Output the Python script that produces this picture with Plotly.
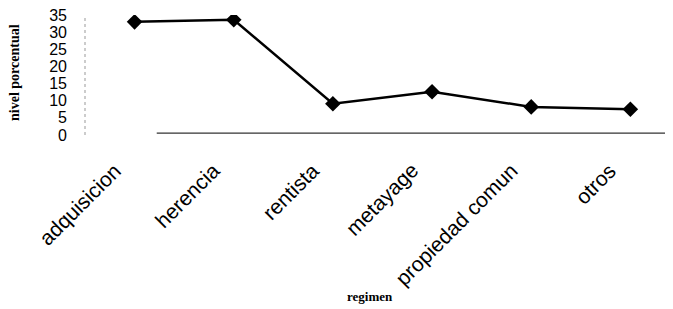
import plotly.graph_objects as go

categories = ["adquisicion", "herencia", "rentista", "metayage", "propiedad comun", "otros"]
values = [33.0, 33.6, 9.1, 12.6, 8.2, 7.5]
y_ticks = [0, 5, 10, 15, 20, 25, 30, 35]

fig = go.Figure()
fig.add_trace(go.Scatter(
    x=categories, y=values, mode="lines+markers",
    line=dict(color="black", width=2.5),
    marker=dict(symbol="diamond", size=12, color="black"),
    showlegend=False,
))

# category labels, rotated like the original
cat_labels = [
    dict(text=c, xref="x", yref="y", x=c, y=0, xanchor="right", yanchor="top",
         xshift=-7, yshift=-21, textangle=-45, showarrow=False,
         font=dict(family="Liberation Sans, Arial", size=21, color="black"))
    for c in categories
]

# page body has an 8px margin: figure is 8px smaller on each axis and offset
fig.update_layout(
    width=665, height=301,
    margin=dict(l=77, r=0, t=7, b=174),
    paper_bgcolor="white", plot_bgcolor="white",
    font=dict(family="Liberation Sans, Arial", color="black"),
    xaxis=dict(
        type="category", range=[-0.5, 5.43], automargin=False,
        showgrid=False, zeroline=False, showline=False,
        showticklabels=False, ticks="", fixedrange=True,
    ),
    yaxis=dict(
        range=[0, 35], tickvals=y_ticks, automargin=False,
        showgrid=False, zeroline=False, showline=False,
        tickfont=dict(size=16, family="Liberation Sans, Arial"),
        ticks="", ticklabelstandoff=17, ticklabeloverflow="allow",
    ),
    shapes=[
        dict(type="line", xref="x domain", yref="y domain", x0=0.122, x1=1, y0=0.015, y1=0.015,
             line=dict(color="#333333", width=1.2)),
        dict(type="line", xref="x domain", yref="y domain", x0=0, x1=0, y0=0, y1=1,
             line=dict(color="#999999", width=1, dash="dot")),
    ],
    annotations=cat_labels + [
        dict(text="<b>nivel porcentual</b>", xref="paper", yref="paper", x=-0.119, y=0.517,
             xanchor="center", yanchor="middle", textangle=-90, showarrow=False,
             font=dict(family="Liberation Serif, Times New Roman", size=14, color="black")),
        dict(text="<b>regimen</b>", xref="x domain", yref="paper", x=0.485, y=-1.342,
             xanchor="center", yanchor="middle", showarrow=False,
             font=dict(family="Liberation Serif, Times New Roman", size=13, color="black")),
    ],
)

fig.write_html("out.html")
